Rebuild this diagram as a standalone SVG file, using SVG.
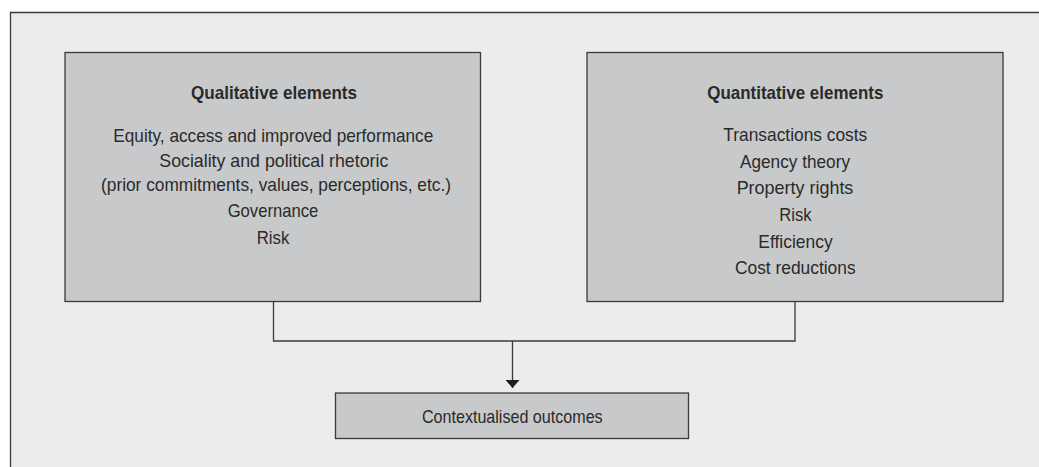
<svg xmlns="http://www.w3.org/2000/svg" width="1039" height="467" viewBox="0 0 1039 467">
<style>
.box{fill:#c8c9cb;stroke:#3a3a3a;stroke-width:1.3}
.t{font-family:"Liberation Sans",Arial,sans-serif;font-size:18.5px;fill:#2a2a2a;text-anchor:middle}
.b{font-weight:bold;font-size:19px}
.c{fill:none;stroke:#3a3a3a;stroke-width:1.3}
</style>
<defs><marker id="ah" markerWidth="8" markerHeight="14" refX="8" refY="7" orient="auto" markerUnits="userSpaceOnUse"><path d="M0,0 L8,7 L0,14 Z" fill="#1e1e1e"/></marker></defs>
<rect x="0" y="0" width="1039" height="467" fill="#fff"/>
<rect x="10" y="12.5" width="1040" height="470" fill="#ececec"/>
<path d="M10.5,467 V12.5 H1039" fill="none" stroke="#3a3a3a" stroke-width="1.3"/>
<g id="qualitative">
<rect class="box" x="65" y="52.5" width="415.5" height="249"/>
<text class="t b" x="274" y="99" textLength="166" lengthAdjust="spacingAndGlyphs">Qualitative elements</text>
<text class="t" x="273.3" y="141.7" textLength="320" lengthAdjust="spacingAndGlyphs">Equity, access and improved performance</text>
<text class="t" x="273.8" y="167.3" textLength="229" lengthAdjust="spacingAndGlyphs">Sociality and political rhetoric</text>
<text class="t" x="276" y="190.5" textLength="350" lengthAdjust="spacingAndGlyphs">(prior commitments, values, perceptions, etc.)</text>
<text class="t" x="273" y="216.7" textLength="90.7" lengthAdjust="spacingAndGlyphs">Governance</text>
<text class="t" x="273" y="244.3" textLength="32.7" lengthAdjust="spacingAndGlyphs">Risk</text>
</g>
<g id="quantitative">
<rect class="box" x="587" y="52.5" width="416" height="249"/>
<text class="t b" x="795.3" y="99" textLength="176" lengthAdjust="spacingAndGlyphs">Quantitative elements</text>
<text class="t" x="795.3" y="140.7" textLength="144" lengthAdjust="spacingAndGlyphs">Transactions costs</text>
<text class="t" x="795" y="168.3" textLength="110" lengthAdjust="spacingAndGlyphs">Agency theory</text>
<text class="t" x="795" y="194.3" textLength="116.7" lengthAdjust="spacingAndGlyphs">Property rights</text>
<text class="t" x="795.5" y="221" textLength="32.3" lengthAdjust="spacingAndGlyphs">Risk</text>
<text class="t" x="795.5" y="248.3" textLength="74.3" lengthAdjust="spacingAndGlyphs">Efficiency</text>
<text class="t" x="795.3" y="274.3" textLength="120.7" lengthAdjust="spacingAndGlyphs">Cost reductions</text>
</g>
<g id="outcomes">
<rect class="box" x="335.5" y="393" width="353" height="45.5"/>
<text class="t" x="512.3" y="423.3" textLength="180.7" lengthAdjust="spacingAndGlyphs">Contextualised outcomes</text>
</g>
<g id="connectors">
<path class="c" d="M273.5,301.5 V341 H795 V301.5"/>
<path class="c" d="M512.5,341 V388" marker-end="url(#ah)"/>
</g>
</svg>
